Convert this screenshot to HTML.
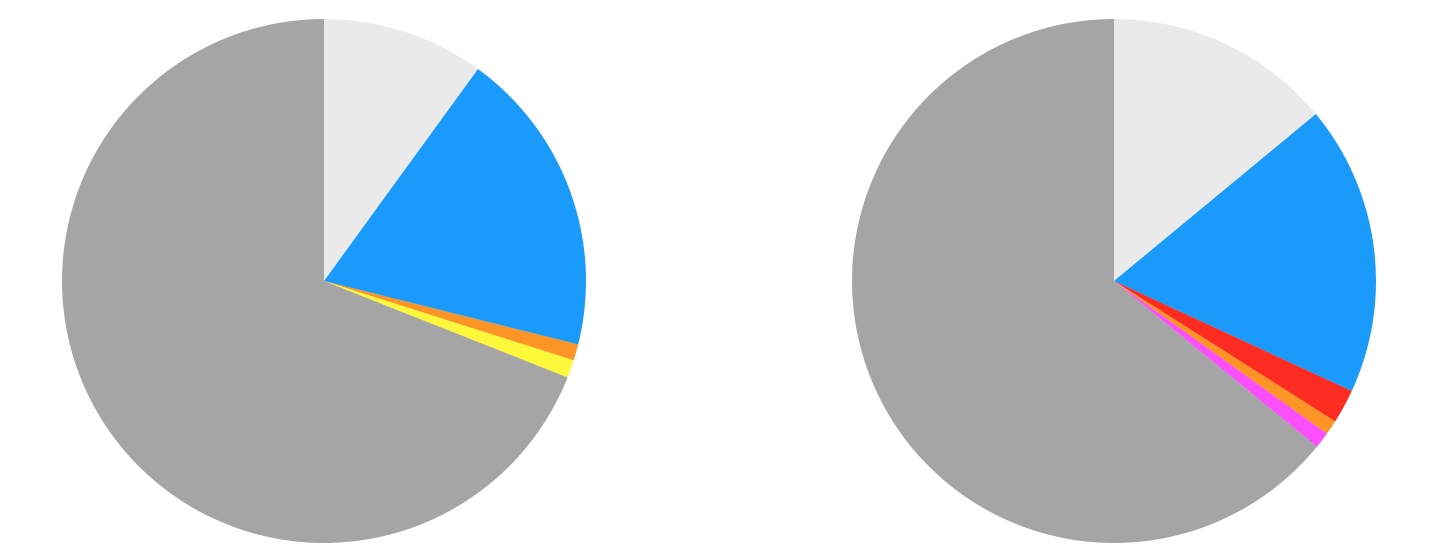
<!DOCTYPE html>
<html><head><meta charset="utf-8"><style>
html,body{margin:0;padding:0;background:#fff;width:1440px;height:560px;overflow:hidden}
svg{display:block}
</style></head>
<body>
<svg id="chart" width="1440" height="560"></svg>
<script>
const leftCategories = ["light-gray","blue","orange","yellow","gray"];
const leftValues = [10, 18.9, 1.0, 1.1, 69.0];
const leftColors = ["#eaeaea","#1a9afa","#fd9426","#fdf93a","#a5a5a5"];
const rightCategories = ["light-gray","blue","red","orange","magenta","gray"];
const rightValues = [14, 17.9, 2.1, 0.9, 1.0, 64.1];
const rightColors = ["#eaeaea","#1a9afa","#fc2d20","#fd9426","#fc4ffc","#a5a5a5"];

const NS = "http://www.w3.org/2000/svg";
const svg = document.getElementById("chart");
function drawPie(cx, cy, r, cats, vals, cols, name) {
  const g = document.createElementNS(NS, "g");
  
  
  svg.appendChild(g);
  const total = vals.reduce((a, b) => a + b, 0);
  let a0 = 0;
  vals.forEach((v, i) => {
    const a1 = a0 + v / total * 2 * Math.PI;
    const x0 = cx + r * Math.sin(a0), y0 = cy - r * Math.cos(a0);
    const x1 = cx + r * Math.sin(a1), y1 = cy - r * Math.cos(a1);
    const large = (a1 - a0) > Math.PI ? 1 : 0;
    const p = document.createElementNS(NS, "path");
    p.setAttribute("d", `M${cx},${cy} L${x0},${y0} A${r},${r} 0 ${large} 1 ${x1},${y1} Z`);
    p.setAttribute("fill", cols[i]);
    
    
    g.appendChild(p);
    a0 = a1;
  });
}
drawPie(324, 281, 262, leftCategories, leftValues, leftColors, "left-pie");
drawPie(1114, 281, 262, rightCategories, rightValues, rightColors, "right-pie");
</script>
</body></html>
